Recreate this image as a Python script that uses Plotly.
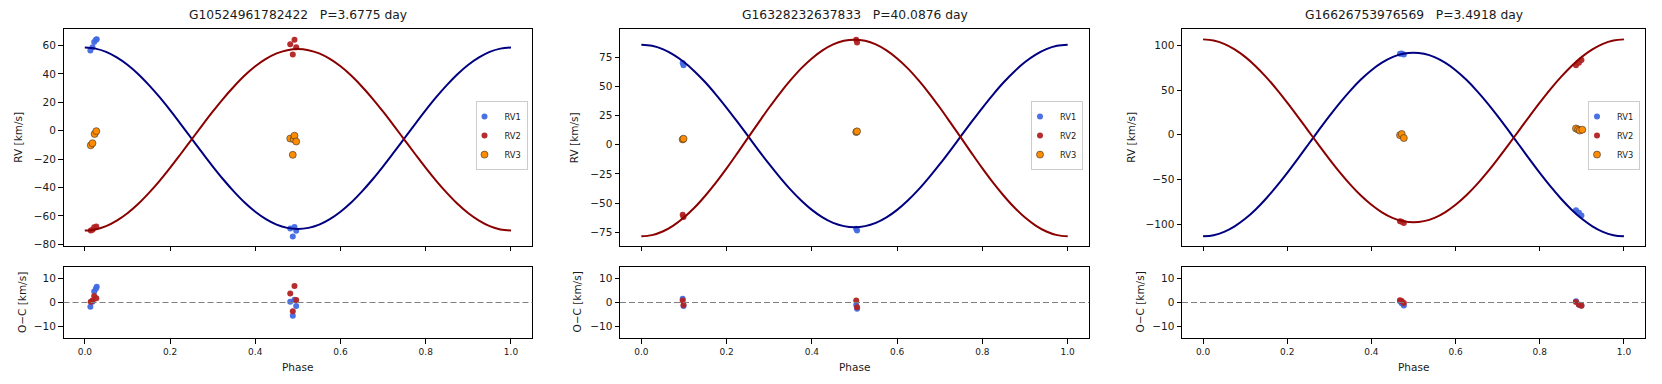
import plotly.graph_objects as go

# ---------------- data ----------------
star_ids = ["G10524961782422", "G16328232637833", "G16626753976569"]
periods = ["3.6775", "40.0876", "3.4918"]

model_phase = [0.000, 0.025, 0.050, 0.075, 0.100, 0.125, 0.150, 0.175, 0.200, 0.225,
               0.250, 0.275, 0.300, 0.325, 0.350, 0.375, 0.400, 0.425, 0.450, 0.475,
               0.500, 0.525, 0.550, 0.575, 0.600, 0.625, 0.650, 0.675, 0.700, 0.725,
               0.750, 0.775, 0.800, 0.825, 0.850, 0.875, 0.900, 0.925, 0.950, 0.975,
               1.000]

# panel 1
p1_model_rv1 = [58.7, 57.9, 55.6, 51.7, 46.5, 40.0, 32.3, 23.8, 14.5, 4.7,
                -5.3, -15.3, -25.1, -34.4, -42.9, -50.6, -57.1, -62.3, -66.2, -68.5,
                -69.3, -68.5, -66.2, -62.3, -57.1, -50.6, -42.9, -34.4, -25.1, -15.3,
                -5.3, 4.7, 14.5, 23.8, 32.3, 40.0, 46.5, 51.7, 55.6, 57.9,
                58.7]
p1_model_rv2 = [-70.4, -69.6, -67.3, -63.4, -58.2, -51.7, -44.0, -35.5, -26.2, -16.4,
                -6.4, 3.6, 13.4, 22.7, 31.2, 38.9, 45.4, 50.6, 54.5, 56.8,
                57.6, 56.8, 54.5, 50.6, 45.4, 38.9, 31.2, 22.7, 13.4, 3.6,
                -6.4, -16.4, -26.2, -35.5, -44.0, -51.7, -58.2, -63.4, -67.3, -69.6,
                -70.4]
p1_rv1_phase = [0.013, 0.018, 0.022, 0.026, 0.028, 0.482, 0.488, 0.492, 0.496]
p1_rv1 = [56.5, 58.8, 62.6, 64.2, 64.5, -68.9, -74.6, -67.9, -70.6]
p1_rv1_res = [-1.8, 0.3, 4.6, 5.8, 6.6, 0.3, -5.5, 1.2, -1.5]
p1_rv2_phase = [0.014, 0.018, 0.022, 0.027, 0.482, 0.488, 0.492, 0.496]
p1_rv2 = [-70.4, -69.8, -68.0, -67.6, 61.0, 53.8, 64.2, 58.8]
p1_rv2_res = [0.3, 0.8, 2.7, 1.8, 3.8, -3.7, 6.9, 1.1]
p1_rv3_phase = [0.014, 0.018, 0.023, 0.027, 0.482, 0.488, 0.490, 0.492, 0.496]
p1_rv3 = [-10.3, -8.8, -2.3, -0.3, -5.5, -17.0, -6.0, -3.5, -7.6]

# panel 2
p2_model_rv1 = [85.6, 84.6, 81.8, 77.1, 70.7, 62.7, 53.4, 42.9, 31.6, 19.7,
                7.5, -4.8, -16.7, -28.0, -38.5, -47.8, -55.8, -62.2, -66.9, -69.7,
                -70.7, -69.7, -66.9, -62.2, -55.8, -47.8, -38.5, -28.0, -16.7, -4.8,
                7.5, 19.7, 31.6, 42.9, 53.4, 62.7, 70.7, 77.1, 81.8, 84.6,
                85.6]
p2_model_rv2 = [-78.4, -77.4, -74.3, -69.2, -62.3, -53.8, -43.7, -32.5, -20.3, -7.4,
                5.8, 18.9, 31.8, 44.0, 55.2, 65.3, 73.8, 80.7, 85.8, 88.9,
                89.9, 88.9, 85.8, 80.7, 73.8, 65.3, 55.2, 44.0, 31.8, 18.9,
                5.8, -7.4, -20.3, -32.5, -43.7, -53.8, -62.3, -69.2, -74.3, -77.4,
                -78.4]
p2_phase = [0.097, 0.099, 0.504, 0.506]
p2_rv1 = [69.8, 68.0, -72.0, -73.4]
p2_rv1_res = [1.6, -1.5, -1.0, -2.6]
p2_rv2 = [-60.0, -61.8, 89.8, 87.4]
p2_rv2_res = [0.8, -1.0, 0.8, -2.0]
p2_rv3 = [4.5, 5.1, 10.8, 11.4]

# panel 3
p3_model_rv1 = [-113.8, -112.5, -108.8, -102.6, -94.2, -83.7, -71.4, -57.7, -42.8, -27.1,
                -11.0, 5.1, 20.8, 35.7, 49.4, 61.7, 72.2, 80.6, 86.8, 90.5,
                91.8, 90.5, 86.8, 80.6, 72.2, 61.7, 49.4, 35.7, 20.8, 5.1,
                -11.0, -27.1, -42.8, -57.7, -71.4, -83.7, -94.2, -102.6, -108.8, -112.5,
                -113.8]
p3_model_rv2 = [106.7, 105.4, 101.7, 95.5, 87.1, 76.7, 64.5, 50.8, 35.9, 20.3,
                4.3, -11.7, -27.3, -42.2, -55.9, -68.1, -78.5, -86.9, -93.1, -96.8,
                -98.1, -96.8, -93.1, -86.9, -78.5, -68.1, -55.9, -42.2, -27.3, -11.7,
                4.3, 20.3, 35.9, 50.8, 64.5, 76.7, 87.1, 95.5, 101.7, 105.4,
                106.7]
p3_phase = [0.468, 0.472, 0.477, 0.886, 0.893, 0.899]
p3_rv1 = [90.5, 90.8, 89.9, -84.5, -87.5, -90.5]
p3_rv1_res = [0.5, -0.3, -1.2, 0.5, -0.8, -1.3]
p3_rv2 = [-96.8, -97.5, -98.9, 77.6, 80.5, 83.5]
p3_rv2_res = [1.0, 0.6, -0.2, 0.2, -0.9, -1.4]
p3_rv3_phase = [0.468, 0.472, 0.477, 0.886, 0.891, 0.895, 0.901]
p3_rv3 = [-0.5, 0.8, -3.8, 7.0, 5.8, 4.6, 5.6]

panels = [
    dict(m1=p1_model_rv1, m2=p1_model_rv2, ph1=p1_rv1_phase, rv1=p1_rv1, r1=p1_rv1_res,
         ph2=p1_rv2_phase, rv2=p1_rv2, r2=p1_rv2_res, ph3=p1_rv3_phase, rv3=p1_rv3,
         yrange=[-81.2, 71.4], ytick=[-80, -60, -40, -20, 0, 20, 40, 60]),
    dict(m1=p2_model_rv1, m2=p2_model_rv2, ph1=p2_phase, rv1=p2_rv1, r1=p2_rv1_res,
         ph2=p2_phase, rv2=p2_rv2, r2=p2_rv2_res, ph3=p2_phase, rv3=p2_rv3,
         yrange=[-86.6, 98.6], ytick=[-75, -50, -25, 0, 25, 50, 75]),
    dict(m1=p3_model_rv1, m2=p3_model_rv2, ph1=p3_phase, rv1=p3_rv1, r1=p3_rv1_res,
         ph2=p3_phase, rv2=p3_rv2, r2=p3_rv2_res, ph3=p3_rv3_phase, rv3=p3_rv3,
         yrange=[-124.5, 117.8], ytick=[-100, -50, 0, 50, 100]),
]

# ---------------- layout geometry (page pixels) ----------------
PAGE_W, PAGE_H = 1662, 384
OFF = 8                         # default body margin of the html page
W, H = PAGE_W - 2 * OFF, PAGE_H - 2 * OFF
FONT = "DejaVu Sans"
TXT = "#1a1a1a"
px_x = [(63.5, 532.3), (620.0, 1089.0), (1182.0, 1645.0)]
top_y = (29.7, 248.5)
bot_y = (269.5, 342.0)
rv_label_x = [18.0, 573.5, 1131.0]
oc_label_x = [21.5, 577.0, 1140.0]
legend_right = [527.5, 1083.0, 1640.0]
NBSP3 = "\u00a0\u00a0\u00a0"


def fx(p):
    return (p - OFF) / W


def fy(p):
    return 1 - (p - OFF) / H


fig = go.Figure()
layout = dict(
    width=W, height=H, margin=dict(l=0, r=0, t=0, b=0),
    paper_bgcolor="white", plot_bgcolor="white",
    font=dict(family=FONT, color=TXT),
    annotations=[], shapes=[],
)

xticks = [0.0, 0.2, 0.4, 0.6, 0.8, 1.0]
leg_names = ["legend", "legend2", "legend3"]

for i, pn in enumerate(panels):
    t = i + 1          # top axes index
    b = i + 4          # bottom axes index
    xs = "" if t == 1 else str(t)
    xb = str(b)
    leg = leg_names[i]

    # points
    fig.add_trace(go.Scatter(x=pn["ph1"], y=pn["rv1"], mode="markers", name="RV1",
                             marker=dict(color="royalblue", size=6, opacity=0.95),
                             xaxis="x" + xs, yaxis="y" + xs, legend=leg))
    fig.add_trace(go.Scatter(x=pn["ph2"], y=pn["rv2"], mode="markers", name="RV2",
                             marker=dict(color="firebrick", size=6, opacity=0.95),
                             xaxis="x" + xs, yaxis="y" + xs, legend=leg))
    fig.add_trace(go.Scatter(x=pn["ph3"], y=pn["rv3"], mode="markers", name="RV3",
                             marker=dict(color="darkorange", size=7,
                                         line=dict(color="#333333", width=0.6)),
                             xaxis="x" + xs, yaxis="y" + xs, legend=leg))
    # model curves
    fig.add_trace(go.Scatter(x=model_phase, y=pn["m1"], mode="lines", showlegend=False,
                             line=dict(color="navy", width=2, shape="spline"),
                             xaxis="x" + xs, yaxis="y" + xs, hoverinfo="skip"))
    fig.add_trace(go.Scatter(x=model_phase, y=pn["m2"], mode="lines", showlegend=False,
                             line=dict(color="darkred", width=2, shape="spline"),
                             xaxis="x" + xs, yaxis="y" + xs, hoverinfo="skip"))
    # residuals
    fig.add_trace(go.Scatter(x=pn["ph1"], y=pn["r1"], mode="markers", showlegend=False,
                             marker=dict(color="royalblue", size=6, opacity=0.95),
                             xaxis="x" + xb, yaxis="y" + xb))
    fig.add_trace(go.Scatter(x=pn["ph2"], y=pn["r2"], mode="markers", showlegend=False,
                             marker=dict(color="firebrick", size=6, opacity=0.95),
                             xaxis="x" + xb, yaxis="y" + xb))

    x0, x1 = px_x[i]
    dom = [fx(x0), fx(x1)]
    axis_common = dict(showline=True, linecolor="black", linewidth=1, mirror=True,
                       ticks="outside", ticklen=4.5, tickwidth=1, tickcolor="black",
                       showgrid=False, zeroline=False)
    layout["xaxis" + xs] = dict(domain=dom, range=[-0.05, 1.05], tickvals=xticks,
                                showticklabels=False, anchor="y" + xs, **axis_common)
    layout["yaxis" + xs] = dict(domain=[fy(top_y[1]), fy(top_y[0])], range=pn["yrange"],
                                tickvals=pn["ytick"], anchor="x" + xs,
                                tickfont=dict(size=10.5, color=TXT), **axis_common)
    layout["xaxis" + xb] = dict(domain=dom, range=[-0.05, 1.05], tickvals=xticks,
                                tickformat=".1f", anchor="y" + xb,
                                tickfont=dict(size=9, color=TXT), **axis_common)
    layout["yaxis" + xb] = dict(domain=[fy(bot_y[1]), fy(bot_y[0])], range=[-15, 15],
                                tickvals=[-10, 0, 10], anchor="x" + xb,
                                tickfont=dict(size=10.5, color=TXT), **axis_common)

    # zero line in residual panel
    layout["shapes"].append(dict(type="line", xref="x" + xb + " domain", x0=0, x1=1,
                                 yref="y" + xb, y0=0, y1=0,
                                 line=dict(color="gray", width=1.2, dash="6px,3px")))

    # texts
    cx = fx((x0 + x1) / 2)
    layout["annotations"] += [
        dict(text=f"{star_ids[i]}{NBSP3}P={periods[i]} day", x=cx, y=fy(15),
             xref="paper", yref="paper", showarrow=False, xanchor="center",
             yanchor="middle", font=dict(size=12.3, color=TXT, family=FONT)),
        dict(text="RV [km/s]", x=fx(rv_label_x[i]), y=fy(sum(top_y) / 2), xref="paper",
             yref="paper", showarrow=False, textangle=-90, xanchor="center",
             yanchor="middle", font=dict(size=10.5, color=TXT, family=FONT)),
        dict(text="O\u2212C [km/s]", x=fx(oc_label_x[i]), y=fy(sum(bot_y) / 2),
             xref="paper", yref="paper", showarrow=False, textangle=-90,
             xanchor="center", yanchor="middle",
             font=dict(size=10.5, color=TXT, family=FONT)),
        dict(text="Phase", x=cx, y=fy(371.0), xref="paper", yref="paper",
             showarrow=False, xanchor="center", yanchor="middle",
             font=dict(size=10.5, color=TXT, family=FONT)),
    ]

    layout[leg] = dict(x=fx(legend_right[i]), y=fy(137), xanchor="right",
                       yanchor="middle", bgcolor="rgba(255,255,255,0.8)",
                       bordercolor="#cccccc", borderwidth=1, itemwidth=30,
                       indentation=-12,
                       font=dict(size=8.3, color=TXT, family=FONT),
                       tracegroupgap=0)

fig.update_layout(**layout)
fig.write_html("out.html")
